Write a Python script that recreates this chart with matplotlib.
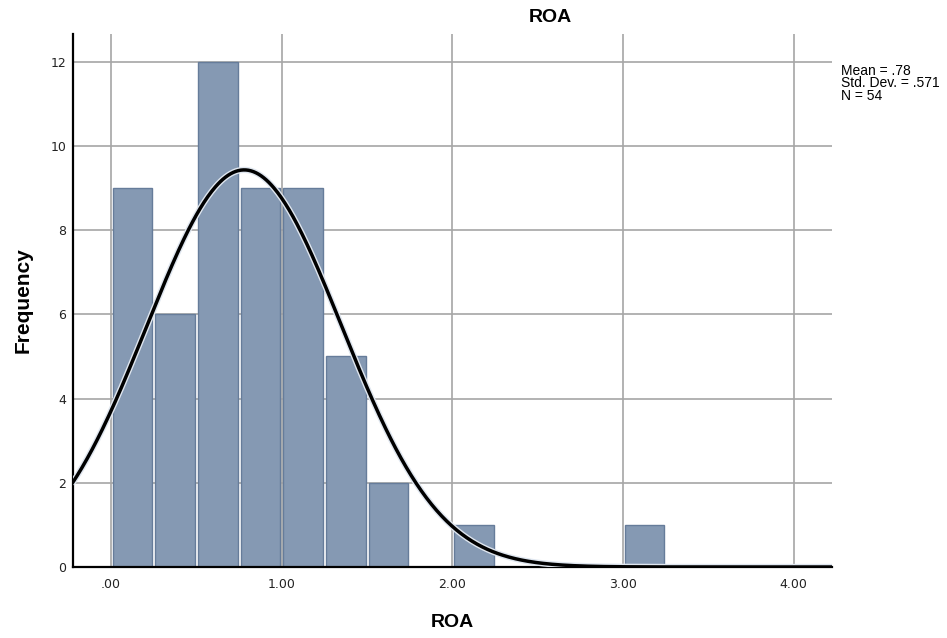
import numpy as np
import matplotlib
matplotlib.use("Agg")
import matplotlib.pyplot as plt
import matplotlib.patheffects as pe

# histogram of ROA (bin width 0.25, starting at 0)
bin_edges = [0.00, 0.25, 0.50, 0.75, 1.00, 1.25, 1.50, 1.75, 2.00, 2.25, 2.50, 2.75, 3.00]
counts = [9, 6, 12, 9, 9, 5, 2, 0, 1, 0, 0, 0, 1]
mean, std, n = 0.78, 0.571, 54
bin_width = 0.25

x_ticks = [0, 1, 2, 3, 4]
x_labels = [".00", "1.00", "2.00", "3.00", "4.00"]
y_ticks = [0, 2, 4, 6, 8, 10, 12]

plt.rcParams["font.family"] = ["Liberation Sans", "DejaVu Sans"]

fig = plt.figure(figsize=(9.47, 6.38), dpi=100)
ax = fig.add_axes([0.0771, 0.1113, 0.8015, 0.8354])

gap = 0.018
ax.bar(bin_edges, counts, width=bin_width - gap, align="edge",
       color="#8599b3", edgecolor="#667c9a", linewidth=1.0, zorder=2)
# shift so bars start right at the bin edge
for p in ax.patches:
    p.set_x(p.get_x() + gap / 2)

xs = np.linspace(-0.23, 4.23, 600)
ys = n * bin_width * np.exp(-0.5 * ((xs - mean) / std) ** 2) / (std * np.sqrt(2 * np.pi))
ax.plot(xs, ys, color="black", linewidth=2.5, zorder=3, solid_capstyle="butt",
        path_effects=[pe.Stroke(linewidth=4.5, foreground="#dfe6ef"), pe.Normal()])

ax.set_xlim(-0.223, 4.224)
ax.set_ylim(0, 12.66)
ax.set_xticks(x_ticks)
ax.set_xticklabels(x_labels)
ax.set_yticks(y_ticks)
ax.tick_params(length=0, labelsize=9, pad=5, colors="#222222")
ax.tick_params(axis="x", pad=8)
for lab in ax.get_xticklabels() + ax.get_yticklabels():
    lab.set_family("DejaVu Sans")

ax.grid(True, color="#a6a6a6", linewidth=1.2, zorder=0)
ax.set_axisbelow(True)
for s in ["top", "right"]:
    ax.spines[s].set_visible(False)
ax.spines["left"].set_linewidth(1.6)
ax.spines["bottom"].set_linewidth(1.6)

fig.text(0.581, 0.973, "ROA", ha="center", va="center", fontsize=14, fontweight="bold")
fig.text(0.478, 0.025, "ROA", ha="center", va="center", fontsize=14, fontweight="bold")
fig.text(0.024, 0.53, "Frequency", ha="center", va="center", rotation=90,
         fontsize=15, fontweight="bold")
fig.text(0.888, 0.900, "Mean = .78\nStd. Dev. = .571\nN = 54", ha="left", va="top",
         fontsize=10, linespacing=0.88)

plt.savefig("out.png", dpi=100)
